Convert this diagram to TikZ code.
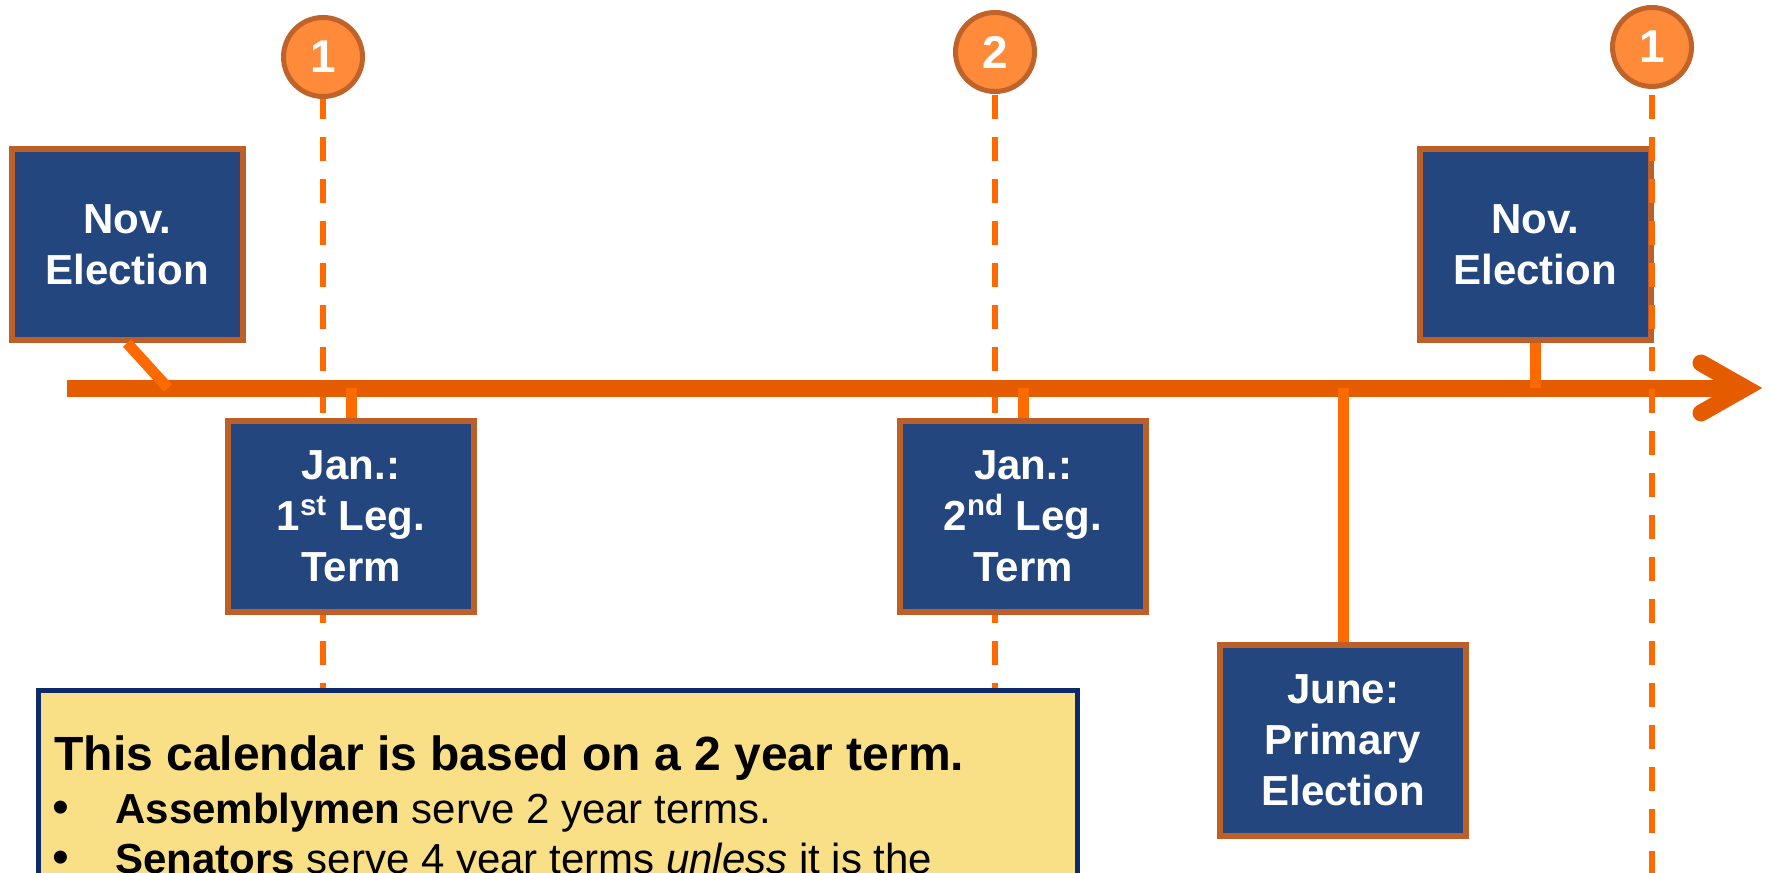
\documentclass[tikz,border=0pt]{standalone}
\usepackage{fontspec}
\setmainfont{Liberation Sans}
\definecolor{boxblue}{HTML}{24467F}
\definecolor{boxedge}{HTML}{BD5F28}
\definecolor{axisorange}{HTML}{E55C00}
\definecolor{tickorange}{HTML}{FF6A00}
\definecolor{markfill}{HTML}{FF8A3A}
\definecolor{markedge}{HTML}{C0632B}
\definecolor{noteyellow}{HTML}{F9DF85}
\definecolor{notenavy}{HTML}{0D2B6B}
\begin{document}
\begin{tikzpicture}[x=0.5pt,y=-0.5pt,
  evbox/.style={draw=boxedge, fill=boxblue, line width=3pt, text=white,
    font=\fontsize{21}{25.5}\selectfont\bfseries, align=center,
    inner sep=0pt, minimum height=95.5pt},
  narrowbox/.style={evbox, minimum width=115.5pt},
  widebox/.style={evbox, minimum width=123pt},
  marker/.style={circle, draw=markedge, fill=markfill, line width=2.5pt,
    minimum size=39.5pt, inner sep=0pt, text=white,
    font=\fontsize{23}{23}\selectfont\bfseries},
  guide/.style={draw=tickorange, line width=3pt, dash pattern=on 12pt off 9pt},
  timeaxis/.style={draw=axisorange, line width=8.5pt},
  axhead/.style={draw=axisorange, line width=8.5pt, line cap=round, line join=miter},
  tickline/.style={draw=tickorange, line width=5.5pt},
  notebox/.style={draw=notenavy, fill=noteyellow, line width=2.5pt, inner sep=0pt,
    minimum width=519.5pt, minimum height=110pt},
  notetitle/.style={inner sep=0pt, font=\fontsize{24}{28}\selectfont\bfseries},
  notetext/.style={inner sep=0pt, font=\fontsize{21}{25}\selectfont},
  notebullet/.style={inner sep=0pt, font=\fontsize{24}{25}\selectfont}]
\clip (0,0) rectangle (1770,872);

% period markers at the top
\node[marker] (c1) at (323,57) {1};
\node[marker] (c2) at (995,52) {2};
\node[marker] (c3) at (1652,47) {1};
\coordinate (d1) at (323,880);
\coordinate (d2) at (995,880);
\coordinate (d3) at (1652,880);

% guide lines behind the timeline
\draw[guide, dash phase=2pt] (c1.south) -- (d1);
\draw[guide, dash phase=20.5pt] (c2.south) -- (d2);

% timeline with open arrow head
\coordinate (axL) at (67,388);
\coordinate (axV) at (1745,388);
\coordinate (axU) at (1701,363);
\coordinate (axD) at (1701,413);
\draw[timeaxis] (axL) -- (axV);
\draw[axhead] (axU) -- (axV) -- (axD);

% events
\node[narrowbox] (nov1) at (127,244.5) {Nov.\\Election};
\node[widebox] (jan1) at (351,516.5) {Jan.:\\1\textsuperscript{st} Leg.\\Term};
\node[widebox] (jan2) at (1023,516.5) {Jan.:\\2\textsuperscript{nd} Leg.\\Term};
\node[widebox] (june) at (1343,740.5) {June:\\Primary\\Election};
\node[narrowbox] (nov2) at (1535,244.5) {Nov.\\Election};

% event ticks on the timeline
\coordinate (a1) at (168,388);
\coordinate (a2) at (351,388);
\coordinate (a3) at (1023,388);
\coordinate (a4) at (1343,388);
\coordinate (a5) at (1535,388);
\draw[tickline] (nov1.south) -- (a1);
\draw[tickline] (a2) -- (jan1.north);
\draw[tickline] (a3) -- (jan2.north);
\draw[tickline] (a4) -- (june.north);
\draw[tickline] (nov2.south) -- (a5);

\draw[guide, dash phase=18pt] (c3.south) -- (d3);

% note
\node[notebox, anchor=north west] (note) at (35.5,687.5) {};
\node[notetitle, anchor=base west] (t0) at (54,770) {This calendar is based on a 2 year term.};
\node[notebullet, anchor=base west] (b1) at (52,823) {•};
\node[notetext, anchor=base west] (l1) at (115,823) {\textbf{Assemblymen} serve 2 year terms.};
\node[notebullet, anchor=base west] (b2) at (52,873) {•};
\node[notetext, anchor=base west] (l2) at (115,873) {\textbf{Senators} serve 4 year terms \textit{unless} it is the};
\end{tikzpicture}
\end{document}
